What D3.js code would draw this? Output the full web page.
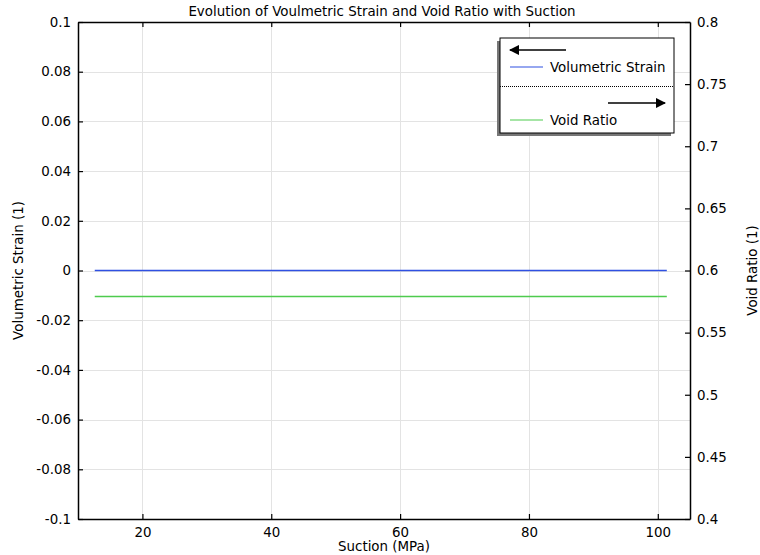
<!DOCTYPE html>
<html>
<head>
<meta charset="utf-8">
<script src="https://cdn.jsdelivr.net/npm/d3@7"></script>
<style>
  body { margin: 0; background: #fff; }
  text { font-family: "DejaVu Sans", sans-serif; fill: #000; }
</style>
</head>
<body>
<div id="chart"></div>
<script>
const titleText = "Evolution of Voulmetric Strain and Void Ratio with Suction";
const suction = [12.6, 101.4];
const volStrain = [0, 0];
const voidRatio = [0.579, 0.579];
const xTicks = [20, 40, 60, 80, 100];
const yLeftTicks = [-0.1, -0.08, -0.06, -0.04, -0.02, 0, 0.02, 0.04, 0.06, 0.08, 0.1];
const yRightTicks = [0.4, 0.45, 0.5, 0.55, 0.6, 0.65, 0.7, 0.75, 0.8];

const width = 760, height = 555;
const m = { top: 22, right: 70, bottom: 36, left: 78 };
const fs = "13.4px";

const svg = d3.select("#chart").append("svg")
    .attr("width", width)
    .attr("height", height);

const x = d3.scaleLinear().domain([10, 105]).range([m.left, width - m.right]);
const yL = d3.scaleLinear().domain([-0.1, 0.1]).range([height - m.bottom, m.top]);
const yR = d3.scaleLinear().domain([0.4, 0.8]).range([height - m.bottom, m.top]);

// grid
const grid = svg.append("g").attr("stroke", "#e3e3e3").attr("stroke-width", 1);
grid.selectAll(".gx").data(xTicks).enter().append("line")
    .attr("x1", d => Math.round(x(d)) + 0.5).attr("x2", d => Math.round(x(d)) + 0.5)
    .attr("y1", m.top).attr("y2", height - m.bottom);
grid.selectAll(".gy").data(yLeftTicks).enter().append("line")
    .attr("x1", m.left).attr("x2", width - m.right)
    .attr("y1", d => Math.round(yL(d)) + 0.5).attr("y2", d => Math.round(yL(d)) + 0.5);

// lines
const line = (ys, yScale) => d3.line()
    .x((d, i) => x(suction[i]))
    .y(d => yScale(d))(ys);

svg.append("path").attr("d", line(volStrain, yL))
    .attr("fill", "none").attr("stroke", "#2f50e2").attr("stroke-width", 1.5);
svg.append("path").attr("d", line(voidRatio, yR))
    .attr("fill", "none").attr("stroke", "#4ecb4e").attr("stroke-width", 1.5);

// axes
const fmt = d => d3.format("~g")(+d.toFixed(4)).replace("\u2212", "-");
svg.append("g").attr("transform", `translate(0,${height - m.bottom})`)
    .call(d3.axisBottom(x).tickValues(xTicks).tickSizeInner(-5).tickSizeOuter(0).tickPadding(8).tickFormat(fmt));
svg.append("g").attr("transform", `translate(0,${m.top})`)
    .call(d3.axisTop(x).tickValues(xTicks).tickSizeInner(-5).tickSizeOuter(0).tickFormat(""));
svg.append("g").attr("transform", `translate(${m.left},0)`)
    .call(d3.axisLeft(yL).tickValues(yLeftTicks).tickSizeInner(-5).tickSizeOuter(0).tickPadding(7).tickFormat(fmt));
svg.append("g").attr("transform", `translate(${width - m.right},0)`)
    .call(d3.axisRight(yR).tickValues(yRightTicks).tickSizeInner(-5).tickSizeOuter(0).tickPadding(7).tickFormat(fmt));

svg.selectAll(".tick text").style("font-size", fs).style("font-family", "DejaVu Sans, sans-serif");
svg.selectAll(".domain").attr("stroke", "#000").attr("stroke-width", 1.5);
svg.selectAll(".tick line").attr("stroke", "#000").attr("stroke-width", 1.2);

// titles
svg.append("text").attr("x", (m.left + width - m.right) / 2 - 2).attr("y", 16)
    .attr("text-anchor", "middle").style("font-size", fs).text(titleText);
svg.append("text").attr("x", (m.left + width - m.right) / 2).attr("y", 551)
    .attr("text-anchor", "middle").style("font-size", fs).text("Suction (MPa)");
svg.append("text").attr("transform", `translate(23,${(m.top + height - m.bottom) / 2}) rotate(-90)`)
    .attr("text-anchor", "middle").style("font-size", fs).text("Volumetric Strain (1)");
svg.append("text").attr("transform", `translate(757,${(m.top + height - m.bottom) / 2}) rotate(-90)`)
    .attr("text-anchor", "middle").style("font-size", fs).text("Void Ratio (1)");

// legend
const lg = svg.append("g").attr("transform", "translate(500,38)");
const lw = 174, lh = 95;
lg.append("rect").attr("x", -3).attr("y", 3).attr("width", lw).attr("height", lh).attr("fill", "#777");
lg.append("rect").attr("x", 0).attr("y", 0).attr("width", lw).attr("height", lh)
    .attr("fill", "#fff").attr("stroke", "#000").attr("stroke-width", 1);
svg.append("defs").append("marker").attr("id", "ah")
    .attr("viewBox", "0 0 10 10").attr("refX", 9).attr("refY", 5)
    .attr("markerWidth", 7).attr("markerHeight", 7).attr("orient", "auto-start-reverse")
    .append("path").attr("d", "M0,0L10,5L0,10z").attr("fill", "#000");
lg.append("line").attr("x1", 66).attr("x2", 10).attr("y1", 12).attr("y2", 12)
    .attr("stroke", "#000").attr("stroke-width", 1.5).attr("marker-end", "url(#ah)");
lg.append("line").attr("x1", 10).attr("x2", 43).attr("y1", 29).attr("y2", 29)
    .attr("stroke", "#2f50e2").attr("stroke-width", 1.2);
lg.append("text").attr("x", 50).attr("y", 34).style("font-size", fs).text("Volumetric Strain");
lg.append("line").attr("x1", 0).attr("x2", lw).attr("y1", 48.5).attr("y2", 48.5)
    .attr("stroke", "#000").attr("stroke-dasharray", "1,1");
lg.append("line").attr("x1", 108).attr("x2", 165).attr("y1", 65).attr("y2", 65)
    .attr("stroke", "#000").attr("stroke-width", 1.5).attr("marker-end", "url(#ah)");
lg.append("line").attr("x1", 10).attr("x2", 43).attr("y1", 82).attr("y2", 82)
    .attr("stroke", "#4ecb4e").attr("stroke-width", 1.2);
lg.append("text").attr("x", 50).attr("y", 87).style("font-size", fs).text("Void Ratio");
</script>
</body>
</html>
